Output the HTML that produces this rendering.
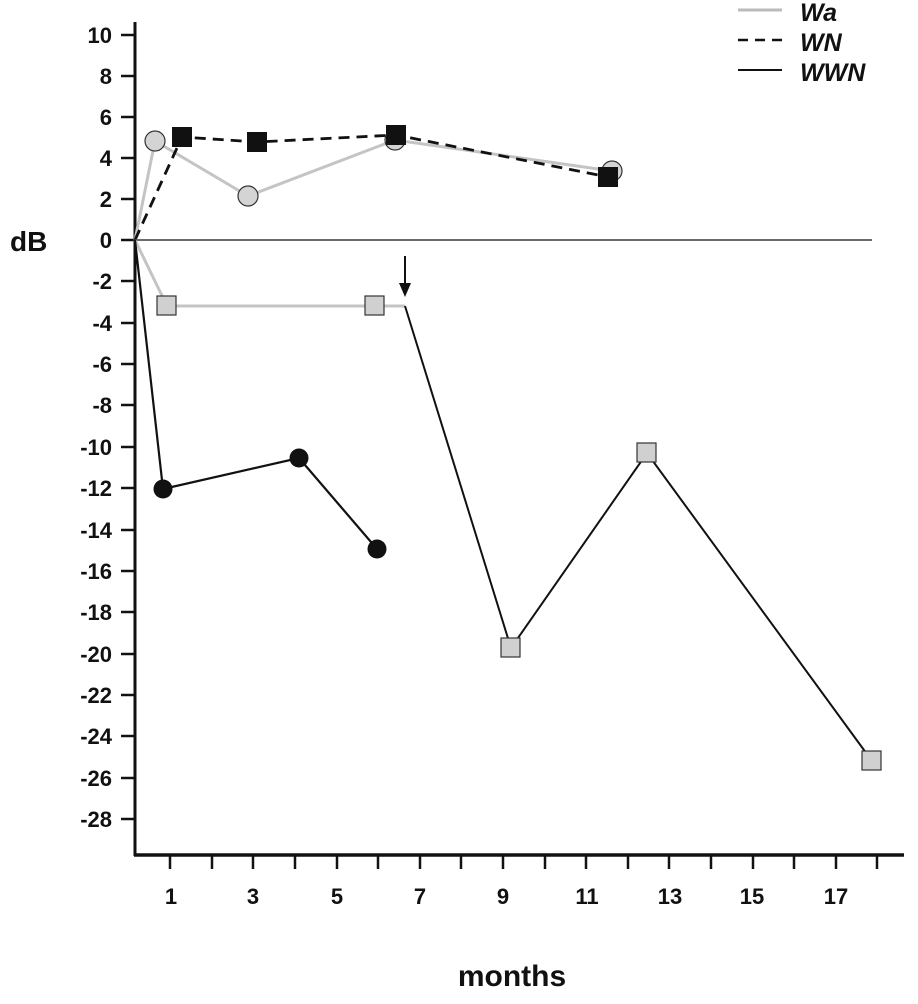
<!DOCTYPE html>
<html><head><meta charset="utf-8"><style>
html,body{margin:0;padding:0;background:#fff;}
svg{display:block;}
text{font-family:"Liberation Sans",sans-serif;font-weight:bold;fill:#111;}
</style></head><body>
<svg width="918" height="1004" viewBox="0 0 918 1004" xmlns="http://www.w3.org/2000/svg">
<rect width="918" height="1004" fill="#fff"/>
<line x1="135" y1="22" x2="135" y2="856" stroke="#111" stroke-width="3"/>
<line x1="134" y1="855" x2="904" y2="855" stroke="#111" stroke-width="3.5"/>
<line x1="135" y1="240" x2="872" y2="240" stroke="#111" stroke-width="1.2"/>
<g stroke="#111" stroke-width="2.5">
<line x1="121" y1="35" x2="135" y2="35"/><line x1="121" y1="76" x2="135" y2="76"/>
<line x1="121" y1="117" x2="135" y2="117"/><line x1="121" y1="158" x2="135" y2="158"/>
<line x1="121" y1="199" x2="135" y2="199"/><line x1="121" y1="240" x2="135" y2="240"/>
<line x1="121" y1="281" x2="135" y2="281"/><line x1="121" y1="323" x2="135" y2="323"/>
<line x1="121" y1="364" x2="135" y2="364"/><line x1="121" y1="405" x2="135" y2="405"/>
<line x1="121" y1="447" x2="135" y2="447"/><line x1="121" y1="488" x2="135" y2="488"/>
<line x1="121" y1="530" x2="135" y2="530"/><line x1="121" y1="571" x2="135" y2="571"/>
<line x1="121" y1="612" x2="135" y2="612"/><line x1="121" y1="654" x2="135" y2="654"/>
<line x1="121" y1="695" x2="135" y2="695"/><line x1="121" y1="736" x2="135" y2="736"/>
<line x1="121" y1="778" x2="135" y2="778"/><line x1="121" y1="819" x2="135" y2="819"/>
</g>
<g stroke="#111" stroke-width="2.5">
<line x1="170" y1="856" x2="170" y2="869"/><line x1="212" y1="856" x2="212" y2="869"/>
<line x1="253" y1="856" x2="253" y2="869"/><line x1="295" y1="856" x2="295" y2="869"/>
<line x1="337" y1="856" x2="337" y2="869"/><line x1="378" y1="856" x2="378" y2="869"/>
<line x1="420" y1="856" x2="420" y2="869"/><line x1="461" y1="856" x2="461" y2="869"/>
<line x1="503" y1="856" x2="503" y2="869"/><line x1="545" y1="856" x2="545" y2="869"/>
<line x1="586" y1="856" x2="586" y2="869"/><line x1="628" y1="856" x2="628" y2="869"/>
<line x1="669" y1="856" x2="669" y2="869"/><line x1="711" y1="856" x2="711" y2="869"/>
<line x1="753" y1="856" x2="753" y2="869"/><line x1="794" y1="856" x2="794" y2="869"/>
<line x1="836" y1="856" x2="836" y2="869"/><line x1="877" y1="856" x2="877" y2="869"/>
</g>
<g font-size="22" text-anchor="end">
<text x="112" y="43">10</text><text x="112" y="84">8</text><text x="112" y="125">6</text>
<text x="112" y="166">4</text><text x="112" y="207">2</text><text x="112" y="248">0</text>
<text x="112" y="289">-2</text><text x="112" y="331">-4</text><text x="112" y="372">-6</text>
<text x="112" y="413">-8</text><text x="112" y="455">-10</text><text x="112" y="496">-12</text>
<text x="112" y="538">-14</text><text x="112" y="579">-16</text><text x="112" y="620">-18</text>
<text x="112" y="662">-20</text><text x="112" y="703">-22</text><text x="112" y="744">-24</text>
<text x="112" y="786">-26</text><text x="112" y="827">-28</text>
</g>
<g font-size="22" text-anchor="middle">
<text x="171" y="904">1</text><text x="253" y="904">3</text><text x="337" y="904">5</text>
<text x="420" y="904">7</text><text x="503" y="904">9</text><text x="587" y="904">11</text>
<text x="670" y="904">13</text><text x="752" y="904">15</text><text x="836" y="904">17</text>
</g>
<text x="10" y="251" font-size="28">dB</text>
<text x="512" y="986" font-size="30" text-anchor="middle">months</text>
<line x1="738" y1="10" x2="782" y2="10" stroke="#bbb" stroke-width="3"/>
<line x1="738" y1="40" x2="782" y2="40" stroke="#111" stroke-width="2.5" stroke-dasharray="10,7"/>
<line x1="738" y1="70" x2="782" y2="70" stroke="#111" stroke-width="2"/>
<g font-size="25" font-style="italic">
<text x="800" y="21">Wa</text><text x="800" y="51">WN</text><text x="800" y="81">WWN</text>
</g>
<polyline points="135,240 155,141 248,196 395,140 612,171" fill="none" stroke="#c4c4c4" stroke-width="3"/>
<polyline points="135,240 182,137 257,142 396,135 608,177" fill="none" stroke="#111" stroke-width="2.8" stroke-dasharray="11,7"/>
<polyline points="135,240 167,306 375,306 405,306" fill="none" stroke="#c4c4c4" stroke-width="3"/>
<polyline points="405,306 511,648 647,453 872,761" fill="none" stroke="#111" stroke-width="2"/>
<polyline points="135,240 163,489 299,458 377,549" fill="none" stroke="#111" stroke-width="2.2"/>
<line x1="405" y1="256" x2="405" y2="288" stroke="#111" stroke-width="2"/>
<polygon points="399,283 411,283 405,297" fill="#111"/>
<g fill="#d4d4d4" stroke="#333" stroke-width="1.2">
<circle cx="155" cy="141" r="10"/><circle cx="248" cy="196" r="10"/>
<circle cx="395" cy="140" r="10"/><circle cx="612" cy="171" r="10"/>
</g>
<g fill="#111">
<rect x="172" y="127" width="20" height="20"/><rect x="247" y="132" width="20" height="20"/>
<rect x="386" y="125" width="20" height="20"/><rect x="598" y="167" width="20" height="20"/>
</g>
<g fill="#d0d0d0" stroke="#333" stroke-width="1.2">
<rect x="157" y="296" width="19" height="19"/><rect x="365" y="296" width="19" height="19"/>
<rect x="501" y="638" width="19" height="19"/><rect x="637" y="443" width="19" height="19"/>
<rect x="862" y="751" width="19" height="19"/>
</g>
<g fill="#111">
<circle cx="163" cy="489" r="9.5"/><circle cx="299" cy="458" r="9.5"/><circle cx="377" cy="549" r="9.5"/>
</g>
</svg>
</body></html>
